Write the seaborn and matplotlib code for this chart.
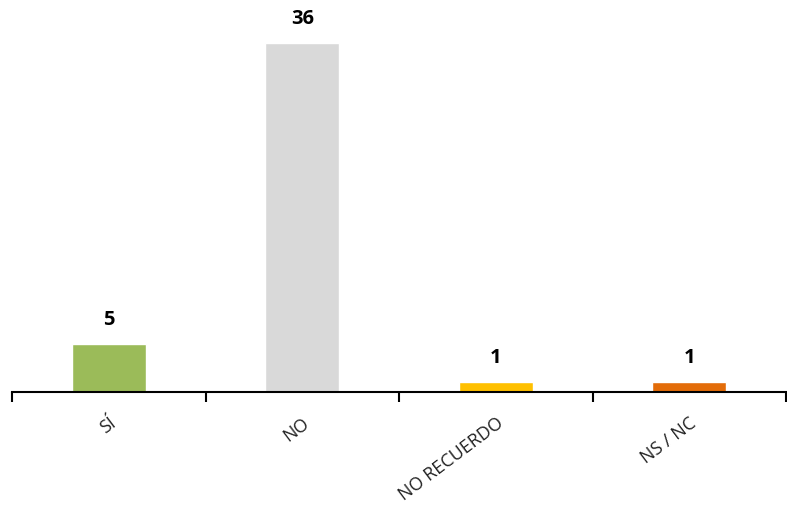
import numpy as np
import pandas as pd
import seaborn as sns
import matplotlib.pyplot as plt

categories = ["SÍ", "NO", "NO RECUERDO", "NS / NC"]
values = [5, 36, 1, 1]
colors = ["#9BBB59", "#D9D9D9", "#FFC000", "#E36C09"]

df = pd.DataFrame({"respuesta": categories, "total": values})

sns.set_style("white")
plt.rcParams["font.family"] = ["Open Sans", "DejaVu Sans"]

fig = plt.figure(figsize=(7.87, 5.09), dpi=100)
ax = fig.add_axes([12 / 787, 117 / 509, 774 / 787, 392 / 509])

sns.barplot(data=df, x="respuesta", y="total", hue="respuesta",
            palette=colors, legend=False, width=0.38, saturation=1, ax=ax)

ax.set_xlim(-0.5, 3.5)
ax.set_ylim(0, 392 / 9.69)

for i, v in enumerate(values):
    ax.annotate(str(v), (i, v), xytext=(0, 10), textcoords="offset points",
                ha="center", va="bottom", fontsize=14.5, fontweight="bold",
                color="black")

# ticks between categories, labels on category centers
ax.set_xticks(np.arange(len(categories)))
ax.set_xticklabels(categories, rotation=37, ha="right", va="top",
                   rotation_mode="anchor", fontsize=13, color="#222222")
ax.tick_params(axis="x", which="major", length=0, pad=16)
ax.set_xticks(np.arange(-0.5, len(categories)), minor=True)
ax.tick_params(axis="x", which="minor", bottom=True, length=7, width=1.5,
               color="black", direction="out")

ax.set_yticks([])
ax.set_xlabel("")
ax.set_ylabel("")
for side in ["top", "right", "left"]:
    ax.spines[side].set_visible(False)
ax.spines["bottom"].set_linewidth(1.5)
ax.spines["bottom"].set_color("black")

fig.savefig("out.png", dpi=100)
